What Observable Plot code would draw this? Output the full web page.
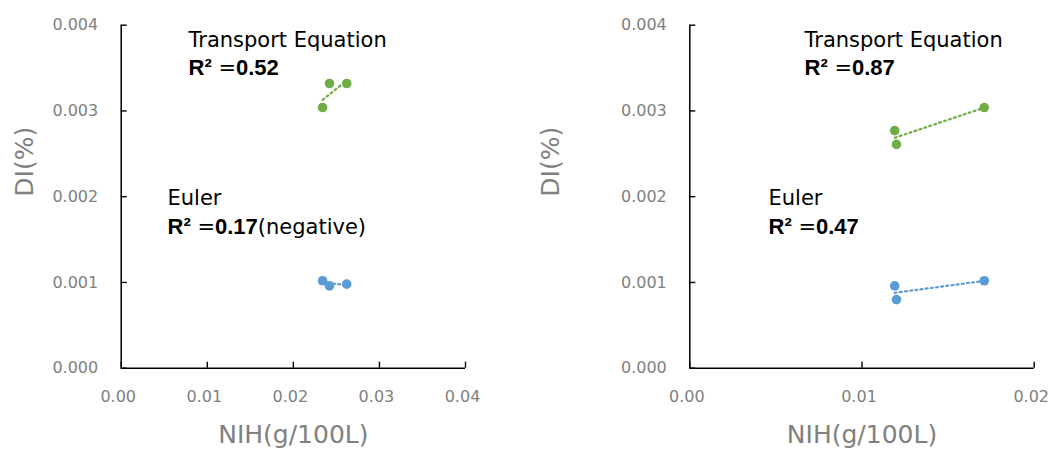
<!DOCTYPE html>
<html>
<head>
<meta charset="utf-8">
<script src="https://cdn.jsdelivr.net/npm/d3@7"></script>
<script src="https://cdn.jsdelivr.net/npm/@observablehq/plot@0.6"></script>
<style>
  html, body { margin: 0; padding: 0; background: #fff; }
  #wrap { display: flex; flex-direction: row; width: 1052px; height: 449px; }
  #wrap svg { display: block; }
</style>
</head>
<body>
<div id="wrap"></div>
<script>
// ---- data ----
const leftX = [0.0234, 0.0242, 0.0262];
const leftTransport = [0.00304, 0.00332, 0.00332];
const leftEuler = [0.00102, 0.00096, 0.00098];
const leftXTicks = [0, 0.01, 0.02, 0.03, 0.04];
const leftLabels = ["Transport Equation", "R² =0.52", "Euler", "R² =0.17(negative)"];

const rightX = [0.0119, 0.0120, 0.0171];
const rightTransport = [0.00277, 0.00261, 0.00304];
const rightEuler = [0.00096, 0.00080, 0.00102];
const rightXTicks = [0, 0.01, 0.02];
const rightLabels = ["Transport Equation", "R² =0.87", "Euler", "R² =0.47"];

const yTicks = [0, 0.001, 0.002, 0.003, 0.004];
const xTitle = "NIH(g/100L)";
const yTitle = "DI(%)";

const GREEN = "#70ad47";
const BLUE = "#5b9bd5";
const GRAY = "#808080";
const FONT = "'DejaVu Sans', sans-serif";
const BOLDFONT = "'Liberation Sans', Arial, sans-serif";
const fx = d3.format(".2f");
const fy = d3.format(".3f");

function panel(xs, trans, euler, xTicks, labels, opts) {
  const T = xs.map((x, i) => ({x, y: trans[i]}));
  const E = xs.map((x, i) => ({x, y: euler[i]}));
  const xmax = xTicks[xTicks.length - 1];
  const ann = (s, dx, dy) => Plot.text([s], {frameAnchor: "top-left", dx, dy, lineAnchor: "bottom", textAnchor: "start", fontSize: 21, fill: "#000"});
  const svg = Plot.plot({
    width: 526,
    height: 449,
    marginTop: 24.7,
    marginBottom: 81.3,
    marginLeft: opts.ml,
    marginRight: opts.mr,
    style: {fontFamily: FONT, background: "#fff"},
    x: {domain: [0, xmax], axis: null},
    y: {domain: [0, 0.004], axis: null},
    marks: [
      // tick labels (drawn through the scales)
      Plot.text(yTicks, {y: d => d, text: d => fy(d), frameAnchor: "left", dx: -23, textAnchor: "end", fontSize: 16, fill: GRAY}),
      Plot.text(xTicks, {x: d => d, text: d => fx(d), frameAnchor: "bottom", dx: -3, dy: 33.5, lineAnchor: "bottom", fontSize: 16, fill: GRAY}),
      // inward ticks
      Plot.axisY({ticks: yTicks, text: null, tickSize: 6, dx: 6, stroke: "#000", strokeWidth: 1.4, label: null}),
      Plot.axisX({ticks: xTicks, text: null, tickSize: 6, dy: -6, stroke: "#000", strokeWidth: 1.4, label: null}),
      // axis lines
      Plot.ruleX([0], {stroke: "#000", strokeWidth: 1.5}),
      Plot.ruleY([0], {stroke: "#000", strokeWidth: 1.5}),
      // axis titles
      Plot.text([xTitle], {frameAnchor: "bottom", dy: 75, lineAnchor: "bottom", fontSize: 25, fill: GRAY}),
      Plot.text([yTitle], {frameAnchor: "left", dx: -(opts.ml - 32), lineAnchor: "bottom", rotate: -90, fontSize: 25, fill: GRAY}),
      // trend lines
      Plot.linearRegressionY(T, {x: "x", y: "y", ci: 0, stroke: GREEN, strokeWidth: 2.2, strokeDasharray: "2,3.2"}),
      Plot.linearRegressionY(E, {x: "x", y: "y", ci: 0, stroke: BLUE, strokeWidth: 2.2, strokeDasharray: "2,3.2"}),
      // points
      Plot.dot(T, {x: "x", y: "y", r: 4.8, fill: GREEN, stroke: null}),
      Plot.dot(E, {x: "x", y: "y", r: 4.8, fill: BLUE, stroke: null}),
      // annotations
      ann(labels[0], opts.teDx, 21.8),
      ann(labels[1], opts.teDx, 50),
      ann(labels[2], opts.euDx, 180),
      ann(labels[3], opts.euDx, 209)
    ]
  });
  // mixed-weight R² labels
  svg.querySelectorAll("text").forEach(t => {
    const m = /^(R²)( =)([\d.]+)(.*)$/.exec(t.textContent);
    if (!m) return;
    t.textContent = "";
    const parts = [[m[1], true], [m[2], false], [m[3], true], [m[4], false]];
    for (const [s, b] of parts) {
      if (!s) continue;
      const ts = document.createElementNS("http://www.w3.org/2000/svg", "tspan");
      if (b) {
        ts.setAttribute("font-weight", "bold");
        ts.setAttribute("font-family", BOLDFONT);
        ts.setAttribute("font-size", "22");
      }
      ts.textContent = s;
      t.appendChild(ts);
    }
  });
  return svg;
}

const wrap = document.getElementById("wrap");
wrap.appendChild(panel(leftX, leftTransport, leftEuler, leftXTicks, leftLabels, {ml: 120.7, mr: 61, teDx: 67.3, euDx: 46.3}));
wrap.appendChild(panel(rightX, rightTransport, rightEuler, rightXTicks, rightLabels, {ml: 163.3, mr: 18.3, teDx: 114.7, euDx: 78.7}));
</script>
</body>
</html>
